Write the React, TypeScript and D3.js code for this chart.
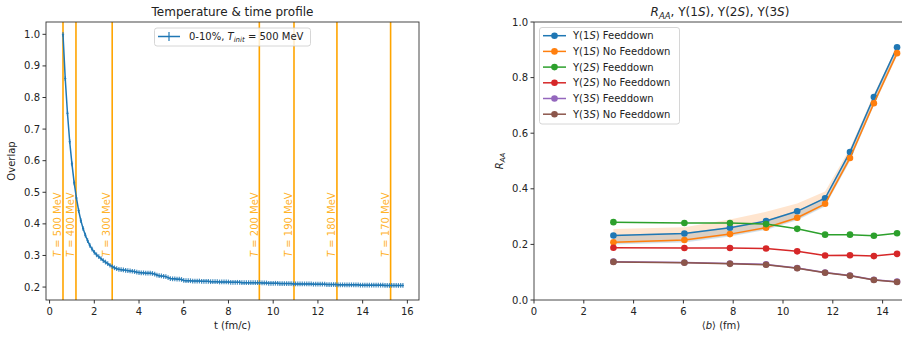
import React from "react";
import * as d3 from "d3";

const W = 902;
const H = 337;
const FONT = "DejaVu Sans, sans-serif";

// ---- left panel: overlap vs time ----
const overlapStart = 0.6;
const overlapStep = 0.1;
const overlap = [
  1.0, 0.86, 0.75, 0.66, 0.59,
  0.53, 0.482, 0.442, 0.41, 0.385,
  0.364, 0.347, 0.332, 0.32, 0.31,
  0.302, 0.296, 0.29, 0.284, 0.279,
  0.274, 0.269, 0.265, 0.261, 0.258,
  0.256, 0.255, 0.254, 0.253, 0.252,
  0.251, 0.25, 0.249, 0.247, 0.246,
  0.245, 0.245, 0.244, 0.244, 0.244,
  0.243, 0.241, 0.238, 0.236, 0.235,
  0.234, 0.233, 0.23, 0.227, 0.226,
  0.226, 0.225, 0.225, 0.224, 0.221,
  0.22, 0.22, 0.22, 0.219, 0.219,
  0.219, 0.219, 0.218, 0.218, 0.218,
  0.218, 0.217, 0.217, 0.217, 0.217,
  0.216, 0.216, 0.216, 0.216, 0.216,
  0.215, 0.215, 0.215, 0.215, 0.215,
  0.214, 0.214, 0.214, 0.214, 0.214,
  0.214, 0.214, 0.214, 0.214, 0.213,
  0.213, 0.213, 0.212, 0.212, 0.212,
  0.212, 0.212, 0.211, 0.211, 0.211,
  0.211, 0.211, 0.211, 0.21, 0.21,
  0.21, 0.21, 0.21, 0.21, 0.21,
  0.21, 0.21, 0.209, 0.209, 0.209,
  0.209, 0.209, 0.209, 0.208, 0.208,
  0.208, 0.208, 0.208, 0.207, 0.207,
  0.207, 0.207, 0.207, 0.207, 0.207,
  0.207, 0.207, 0.207, 0.206, 0.206,
  0.206, 0.206, 0.206, 0.206, 0.206,
  0.206, 0.206, 0.206, 0.206, 0.205,
  0.205, 0.205, 0.205, 0.205, 0.205,
  0.205, 0.205, 0.205,
];
const overlapYErr = 0.0075;
const overlapXErr = 0.05;

const tempTimes = [0.6, 1.18, 2.8, 9.38, 10.93, 12.85, 15.25];
const tempLabels = ["500", "400", "300", "200", "190", "180", "170"];

const leftXTicks = [0, 2, 4, 6, 8, 10, 12, 14, 16];
const leftYTicks = [0.2, 0.3, 0.4, 0.5, 0.6, 0.7, 0.8, 0.9, 1.0];

// ---- right panel: R_AA vs <b> ----
const impact = [3.19, 6.04, 7.87, 9.32, 10.57, 11.69, 12.69, 13.65, 14.58];
const y1sFd = [0.232, 0.239, 0.26, 0.284, 0.319, 0.366, 0.532, 0.73, 0.909];
const y1sNoFd = [0.208, 0.216, 0.237, 0.26, 0.296, 0.346, 0.511, 0.708, 0.888];
const y2sFd = [0.28, 0.277, 0.277, 0.273, 0.256, 0.235, 0.235, 0.231, 0.24];
const y2sNoFd = [0.188, 0.187, 0.187, 0.185, 0.175, 0.16, 0.161, 0.158, 0.166];
const y3sFd = [0.138, 0.135, 0.131, 0.128, 0.115, 0.099, 0.088, 0.073, 0.066];
const y3sNoFd = [0.137, 0.134, 0.13, 0.127, 0.114, 0.098, 0.087, 0.072, 0.065];

const y1sFdLow = [0.2, 0.207, 0.228, 0.252, 0.287, 0.336, 0.5, 0.7, 0.88];
const y1sFdHigh = [0.235, 0.242, 0.263, 0.287, 0.322, 0.369, 0.537, 0.736, 0.915];
const y1sNoFdLow = [0.203, 0.211, 0.232, 0.255, 0.29, 0.34, 0.503, 0.7, 0.878];
const y1sNoFdHigh = [0.255, 0.262, 0.29, 0.317, 0.347, 0.39, 0.545, 0.74, 0.915];

const seriesNames = [
  "Υ(1S) Feeddown",
  "Υ(1S) No Feeddown",
  "Υ(2S) Feeddown",
  "Υ(2S) No Feeddown",
  "Υ(3S) Feeddown",
  "Υ(3S) No Feeddown",
];
const seriesColors = ["#1f77b4", "#ff7f0e", "#2ca02c", "#d62728", "#9467bd", "#8c564b"];
const seriesValues = [y1sFd, y1sNoFd, y2sFd, y2sNoFd, y3sFd, y3sNoFd];

const rightXTicks = [0, 2, 4, 6, 8, 10, 12, 14];
const rightYTicks = [0.0, 0.2, 0.4, 0.6, 0.8, 1.0];

const AXIS = "#333";
const TXT = "#222";

function LeftPanel() {
  const L = { left: 46, right: 419, top: 22, bottom: 300 };
  const x = d3.scaleLinear().domain([-0.16, 16.52]).range([L.left, L.right]);
  const y = d3.scaleLinear().domain([0.159, 1.039]).range([L.bottom, L.top]);
  const pts = overlap.map((v, i) => ({ t: overlapStart + i * overlapStep, v }));
  const line = d3
    .line<{ t: number; v: number }>()
    .x((d) => x(d.t))
    .y((d) => y(d.v));
  const blue = "#1f77b4";
  const orange = "#ffa500";
  return (
    <g fontFamily={FONT}>
      <defs>
        <clipPath id="clipL">
          <rect x={L.left} y={L.top} width={L.right - L.left} height={L.bottom - L.top} />
        </clipPath>
      </defs>
      <g clipPath="url(#clipL)">
        {tempTimes.map((t, i) => (
          <g key={i}>
            <line x1={x(t)} x2={x(t)} y1={L.top} y2={L.bottom} stroke={orange} strokeWidth={1.6} />
            <text
              transform={`translate(${x(t) - 1.8},${y(0.295)}) rotate(-90)`}
              fontSize={10}
              fill={orange}
              fillOpacity={0.85}
            >
              <tspan fontStyle="italic">T</tspan>
              {` = ${tempLabels[i]} MeV`}
            </text>
          </g>
        ))}
        <g stroke={blue} strokeOpacity={0.85} strokeWidth={1.2}>
          {pts.map((d, i) => (
            <g key={i}>
              <line x1={x(d.t)} x2={x(d.t)} y1={y(d.v - overlapYErr)} y2={y(d.v + overlapYErr)} />
              <line x1={x(d.t - overlapXErr)} x2={x(d.t + overlapXErr)} y1={y(d.v)} y2={y(d.v)} />
            </g>
          ))}
        </g>
        <path d={line(pts) || ""} fill="none" stroke={blue} strokeWidth={1.5} />
      </g>
      <rect
        x={L.left}
        y={L.top}
        width={L.right - L.left}
        height={L.bottom - L.top}
        fill="none"
        stroke={AXIS}
        strokeWidth={0.9}
      />
      {leftXTicks.map((t) => (
        <g key={t}>
          <line x1={x(t)} x2={x(t)} y1={L.bottom} y2={L.bottom + 3.5} stroke={AXIS} />
          <text x={x(t)} y={L.bottom + 15} fontSize={10} fill={TXT} textAnchor="middle">
            {t}
          </text>
        </g>
      ))}
      {leftYTicks.map((t) => (
        <g key={t}>
          <line x1={L.left - 3.5} x2={L.left} y1={y(t)} y2={y(t)} stroke={AXIS} />
          <text x={L.left - 6} y={y(t) + 3.5} fontSize={10} fill={TXT} textAnchor="end">
            {t.toFixed(1)}
          </text>
        </g>
      ))}
      <text x={(L.left + L.right) / 2} y={329} fontSize={10} fill={TXT} textAnchor="middle">
        t (fm/c)
      </text>
      <text
        transform={`translate(${15},${(L.top + L.bottom) / 2}) rotate(-90)`}
        fontSize={10}
        fill={TXT}
        textAnchor="middle"
      >
        Overlap
      </text>
      <text x={(L.left + L.right) / 2} y={16} fontSize={12} fill={TXT} textAnchor="middle">
        Temperature &amp; time profile
      </text>
      {/* legend */}
      <rect x={154.5} y={28} width={156} height={18} rx={2.5} fill="#fff" fillOpacity={0.8} stroke="#ccc" strokeWidth={0.8} />
      <line x1={158} x2={180} y1={36.5} y2={36.5} stroke={blue} strokeWidth={1.5} />
      <line x1={169} x2={169} y1={32} y2={41} stroke={blue} strokeWidth={1.2} />
      <text x={189} y={40} fontSize={10} fill={TXT}>
        0-10%, <tspan fontStyle="italic">T</tspan>
        <tspan fontStyle="italic" fontSize={7} dy={2}>init</tspan>
        <tspan dy={-2}> = 500 MeV</tspan>
      </text>
    </g>
  );
}

function RightPanel() {
  const R = { left: 534, right: 907.5, top: 22, bottom: 300 };
  const x = d3.scaleLinear().domain([0, 15]).range([R.left, R.right]);
  const y = d3.scaleLinear().domain([0, 1]).range([R.bottom, R.top]);
  const line = d3
    .line<number>()
    .x((_, i) => x(impact[i]))
    .y((d) => y(d));
  const band = (lo: number[], hi: number[]) =>
    d3
      .area<number>()
      .x((_, i) => x(impact[i]))
      .y0((_, i) => y(lo[i]))
      .y1((_, i) => y(hi[i]))(impact) || "";
  return (
    <g fontFamily={FONT}>
      <path d={band(y1sFdLow, y1sFdHigh)} fill="#1f77b4" fillOpacity={0.2} />
      <path d={band(y1sNoFdLow, y1sNoFdHigh)} fill="#ff7f0e" fillOpacity={0.2} />
      {seriesValues.map((vals, s) => (
        <g key={s}>
          <path d={line(vals) || ""} fill="none" stroke={seriesColors[s]} strokeWidth={1.5} />
          {vals.map((v, i) => (
            <circle key={i} cx={x(impact[i])} cy={y(v)} r={3.3} fill={seriesColors[s]} />
          ))}
        </g>
      ))}
      <line x1={R.left} x2={W} y1={R.top} y2={R.top} stroke={AXIS} strokeWidth={0.9} />
      <line x1={R.left} x2={R.left} y1={R.top} y2={R.bottom} stroke={AXIS} strokeWidth={0.9} />
      <line x1={R.left} x2={W} y1={R.bottom} y2={R.bottom} stroke={AXIS} strokeWidth={0.9} />
      {rightXTicks.map((t) => (
        <g key={t}>
          <line x1={x(t)} x2={x(t)} y1={R.bottom} y2={R.bottom + 3.5} stroke={AXIS} />
          <text x={x(t)} y={R.bottom + 15} fontSize={10} fill={TXT} textAnchor="middle">
            {t}
          </text>
        </g>
      ))}
      {rightYTicks.map((t) => (
        <g key={t}>
          <line x1={R.left - 3.5} x2={R.left} y1={y(t)} y2={y(t)} stroke={AXIS} />
          <text x={R.left - 6} y={y(t) + 3.5} fontSize={10} fill={TXT} textAnchor="end">
            {t.toFixed(1)}
          </text>
        </g>
      ))}
      <text x={721} y={329} fontSize={10} fill={TXT} textAnchor="middle">
        ⟨<tspan fontStyle="italic">b</tspan>⟩ (fm)
      </text>
      <text transform={`translate(${503},${(R.top + R.bottom) / 2}) rotate(-90)`} fontSize={10} fill={TXT} textAnchor="middle">
        <tspan fontStyle="italic">R</tspan>
        <tspan fontStyle="italic" fontSize={7} dy={2}>AA</tspan>
      </text>
      <text x={720} y={16} fontSize={12} fill={TXT} textAnchor="middle">
        <tspan fontStyle="italic">R</tspan>
        <tspan fontStyle="italic" fontSize={8.5} dy={2.5}>AA</tspan>
        <tspan dy={-2.5}>, Υ(1</tspan>
        <tspan fontStyle="italic">S</tspan>), Υ(2<tspan fontStyle="italic">S</tspan>), Υ(3
        <tspan fontStyle="italic">S</tspan>)
      </text>
      {/* legend */}
      <rect x={539.5} y={27.5} width={140} height={96.5} rx={2.5} fill="#fff" fillOpacity={0.8} stroke="#ccc" strokeWidth={0.8} />
      {seriesNames.map((name, i) => {
        const ly = 35.7 + i * 15.7;
        const m = name.match(/^Υ\((\d)S\) (.*)$/);
        return (
          <g key={name}>
            <line x1={543} x2={566} y1={ly} y2={ly} stroke={seriesColors[i]} strokeWidth={1.5} />
            <circle cx={554.5} cy={ly} r={3.3} fill={seriesColors[i]} />
            <text x={573} y={ly + 3.5} fontSize={10} fill={TXT}>
              Υ({m ? m[1] : ""}
              <tspan fontStyle="italic">S</tspan>) {m ? m[2] : ""}
            </text>
          </g>
        );
      })}
    </g>
  );
}

export default function App() {
  return (
    <svg
      width={W}
      height={H}
      viewBox={`0 0 ${W} ${H}`}
      style={{ position: "absolute", left: 0, top: 0, background: "#fff" }}
    >
      <rect width={W} height={H} fill="#fff" />
      <LeftPanel />
      <RightPanel />
    </svg>
  );
}
